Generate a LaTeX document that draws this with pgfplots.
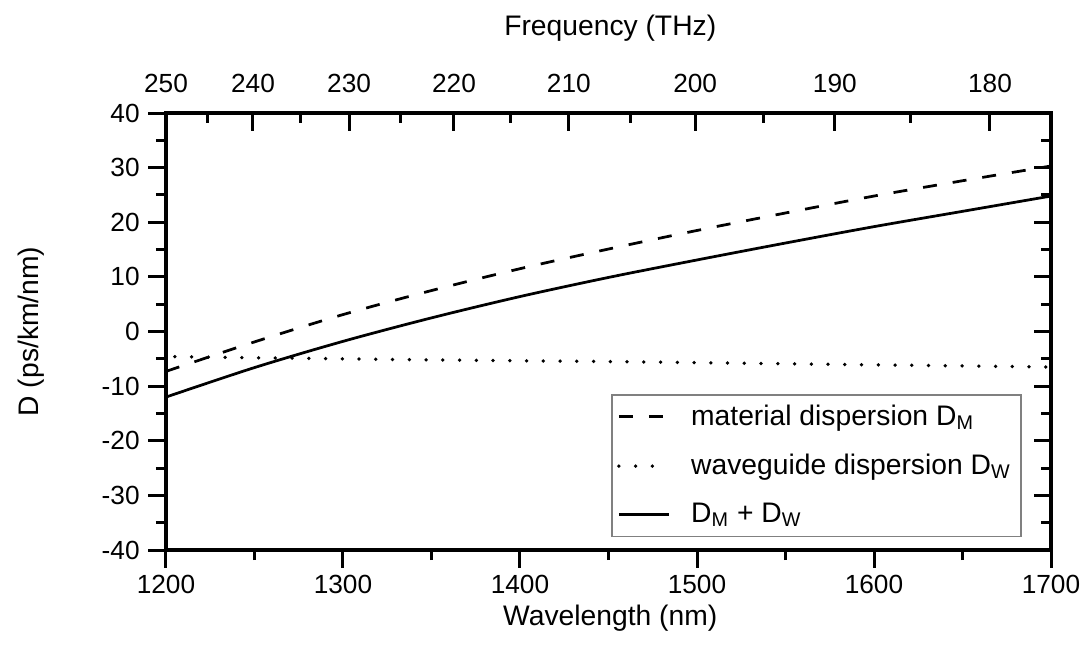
\documentclass[border=0pt]{standalone}
\usepackage{pgfplots}
\pgfplotsset{compat=1.18}
\usepackage{fontspec}
\setmainfont{Liberation Sans}
\begin{document}
\begin{tikzpicture}
\useasboundingbox (-66.4pt,-38pt) rectangle (369.6pt,220pt);
\pgfplotsset{
 common/.style={width=354pt,height=174.8pt,scale only axis,
  xmin=1200,xmax=1700,ymin=-40,ymax=40,
  axis line style={line width=1.4pt},
  major tick length=7pt, minor tick length=4pt,
  every tick/.style={line width=1.2pt, black},
  tick label style={font=\fontsize{10.5}{12}\selectfont},
  /pgf/number format/assume math mode=true,
  /pgf/number format/1000 sep={},
  label style={font=\fontsize{11.3}{13}\selectfont},
  ytick={-40,-30,...,40}, minor y tick num=1,
 }
}
\begin{axis}[common, at={(0,0)}, anchor=south west,
 tick align=outside, xtick pos=bottom, ytick pos=left,
 xtick={1200,1300,...,1700}, minor x tick num=1,
 xticklabel style={yshift=0.5pt},
 xlabel={Wavelength (nm)}, ylabel={D (ps/km/nm)},
 xlabel style={at={(axis description cs:0.502,-0.156)},anchor=center},
 ylabel style={at={(axis description cs:-0.152,0.5)},anchor=center},
 legend cell align=left,
 legend image code/.code={\draw[#1] (0cm,0cm) -- (0.7cm,0cm); \path (0.92cm,0cm);},
 legend style={at={(0.967,0.357)}, anchor=north east, draw=gray, line width=0.6pt,
  font=\fontsize{11.3}{13.2}\selectfont, inner sep=2pt, row sep=6pt},
]
\addplot[black, line width=1.1pt, smooth, dash pattern=on 5.6pt off 6.4pt] coordinates {
(1200,-7.3) (1250,-1.9) (1300,3.1) (1350,7.5) (1400,11.5) (1450,15.1)
(1500,18.5) (1550,21.7) (1600,24.8) (1650,27.6) (1700,30.3)};
\addlegendentry{material dispersion D\textsubscript{M}}
\addplot[black, line width=1.5pt, smooth, line cap=round, dash pattern=on 0pt off 6.7pt] coordinates {
(1205,-4.6) (1250,-4.8) (1300,-5.0) (1350,-5.2) (1400,-5.35) (1450,-5.5)
(1500,-5.7) (1550,-5.9) (1600,-6.1) (1650,-6.3) (1700,-6.5)};
\addlegendentry{waveguide dispersion D\textsubscript{W}}
\addplot[black, line width=1.1pt, smooth] coordinates {
(1200,-12.0) (1250,-6.6) (1300,-1.8) (1350,2.5) (1400,6.4) (1450,9.9)
(1500,13.1) (1550,16.2) (1600,19.2) (1650,22.0) (1700,24.8)};
\addlegendentry{D\textsubscript{M} + D\textsubscript{W}}
\end{axis}
\begin{axis}[common, at={(0,0)}, anchor=south west,
 tick align=inside, xtick pos=right, xticklabel pos=right, ytick pos=right, yticklabels={},
 xtick={1200,1249.135,1303.445,1362.693,1427.583,1498.962,1577.855,1665.514},
 xticklabels={250,240,230,220,210,200,190,180},
 minor xtick={1223.643,1275.713,1332.411,1394.384,1462.402,1537.397,1620.500},
 xticklabel style={yshift=4.5pt},
 xlabel={Frequency (THz)},
 xlabel style={at={(axis description cs:0.502,1.195)},anchor=center},
]
\end{axis}
\end{tikzpicture}
\end{document}
